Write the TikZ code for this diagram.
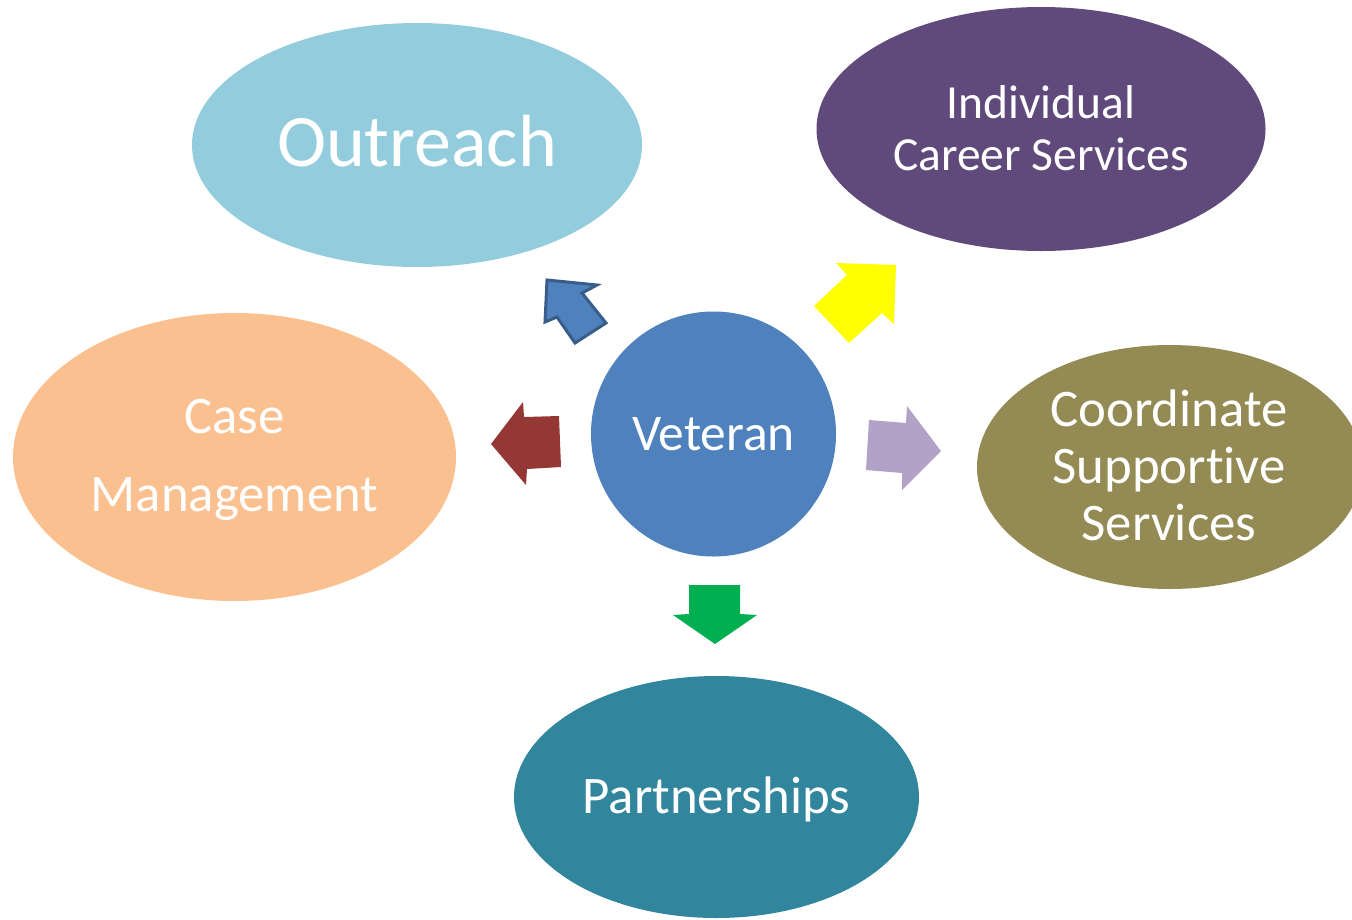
\documentclass[tikz,border=0pt]{standalone}
\usepackage{fontspec}
\setmainfont[Ligatures={NoCommon,NoRare,NoContextual}]{Carlito}
\usetikzlibrary{shapes.geometric}
\definecolor{cOut}{HTML}{93CDDD}
\definecolor{cInd}{HTML}{604A7B}
\definecolor{cCase}{HTML}{FAC090}
\definecolor{cVet}{HTML}{4F81BD}
\definecolor{cVetD}{HTML}{385D8A}
\definecolor{cCoord}{HTML}{948A54}
\definecolor{cPart}{HTML}{31859C}
\definecolor{cYel}{HTML}{FFFF00}
\definecolor{cRed}{HTML}{953735}
\definecolor{cPur}{HTML}{B3A2C7}
\definecolor{cGrn}{HTML}{00B050}
\tikzset{
  blob/.style={ellipse, inner sep=0pt, text=white, align=center},
  lbl/.style={text=white, align=center, inner sep=0pt},
}
\begin{document}
\begin{tikzpicture}[x=1pt,y=-1pt]
\useasboundingbox (0,0) rectangle (1352,919);
\clip (0,0) rectangle (1352,919);
% ellipses
\node[blob, fill=cOut, minimum width=450pt, minimum height=244pt] (out) at (417,145) {};
\node[blob, fill=cInd, minimum width=449pt, minimum height=244pt] (ind) at (1041,129) {};
\node[blob, fill=cCase, minimum width=443pt, minimum height=288pt] (case) at (234.5,457) {};
\node[circle, fill=cVet, minimum size=245pt, inner sep=0pt] (vet) at (713.5,434) {};
\node[blob, fill=cCoord, minimum width=386pt, minimum height=244pt] (coord) at (1170,467) {};
\node[blob, fill=cPart, minimum width=405pt, minimum height=242pt] (part) at (716.5,797) {};
% labels
\node[lbl, font=\fontsize{74}{80}\selectfont] (tout) at (417,141) {Outreach};
\node[lbl, font=\fontsize{47.5}{52}\selectfont] (tind) at (1041,128) {Individual\\Career Services};
\node[lbl, font=\fontsize{52.8}{78}\selectfont] (tcase) at (234.5,460) {Case\\Management};
\node[lbl, font=\fontsize{51.5}{56}\selectfont] (tvet) at (713.5,434) {Veteran};
\node[lbl, font=\fontsize{52.8}{57}\selectfont] (tcoord) at (1169,465) {Coordinate\\Suppor\kern0pt tive\\Services};
\node[lbl, font=\fontsize{52.8}{58}\selectfont] (tpart) at (716.5,799) {Partnerships};
% arrows
\draw[fill=cVet, draw=cVetD, line width=3pt, line join=miter]
  (547,280) -- (597,285) -- (582,293) -- (606,323) -- (575,343) -- (557,317) -- (545,322) -- cycle;
\fill[cYel] (836,263) -- (896,265) -- (894,324) -- (882,313) -- (849,343) -- (814,306) -- (847,275) -- cycle;
\fill[cRed] (491,444) -- (523,402) -- (524,417) -- (559,416) -- (561,467) -- (527,469) -- (526,485) -- cycle;
\fill[cPur] (869,420) -- (906,423) -- (907,406) -- (941,451) -- (902,490) -- (902,473) -- (866,470) -- cycle;
\fill[cGrn] (689,585) -- (740,585) -- (740,614) -- (757,615) -- (715,644) -- (673,615) -- (689,614) -- cycle;
\end{tikzpicture}
\end{document}
